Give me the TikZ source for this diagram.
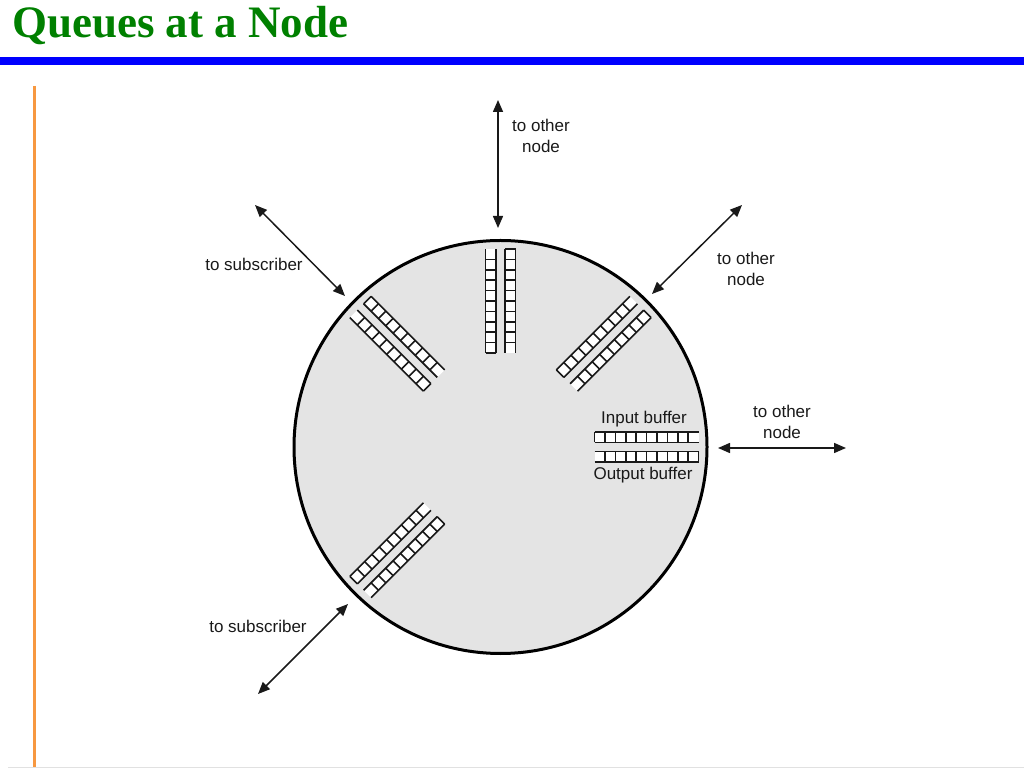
\documentclass[tikz,border=0pt]{standalone}
\usepackage{fontspec}
\setmainfont{Liberation Sans}
\newfontfamily\titlefont{Liberation Serif}
\usetikzlibrary{arrows.meta}
\definecolor{titlegreen}{RGB}{0,128,0}
\definecolor{barblue}{RGB}{0,0,255}
\definecolor{barorange}{RGB}{247,152,64}
\definecolor{hubfill}{RGB}{228,228,228}
\definecolor{inkgray}{RGB}{25,25,25}
\definecolor{edgegray}{RGB}{225,225,225}
\begin{document}
\begin{tikzpicture}[x=1pt,y=1pt,
  lbl/.style={font=\fontsize{17}{21}\selectfont, align=center, text=inkgray, inner sep=0pt},
  biarrow/.style={line width=1.5pt, draw=inkgray,
    {Triangle[length=12pt,width=10pt]}-{Triangle[length=12pt,width=10pt]}},
  qline/.style={line width=1.6pt, draw=inkgray},
  hubstyle/.style={circle, draw=black, line width=3pt, fill=hubfill,
    minimum size=413pt, inner sep=0pt},
]
\useasboundingbox (0,0) rectangle (1024,768);

% title and frame bars
\node[anchor=base west, inner sep=0pt, text=titlegreen,
  font=\titlefont\bfseries\fontsize{45}{50}\selectfont] (title) at (12,730) {Queues at a Node};
\fill[barblue] (0,703) rectangle (1024,711);
\draw[barorange, line width=3pt] (34,682) -- (34,0);
\draw[edgegray, line width=1pt] (8,1) -- (1024,1);

% the node
\node[hubstyle] (hub) at (500.5,321) {};

% queues
\foreach \a in {0,45,90,135,225}{
  \begin{scope}[shift={(500.5,321)}, rotate=\a]
    \fill[white] (94,4.5) rectangle (198,15);
    \fill[white] (94,-4.5) rectangle (198,-15);
    \draw[qline] (94,4.5) -- (198,4.5) (94,15) -- (198,15);
    \draw[qline] (94,-4.5) -- (198,-4.5) (94,-15) -- (198,-15);
    \foreach \k in {0,...,9} \draw[qline] ({94+10.4*\k},4.5) -- ++(0,10.5);
    \foreach \k in {1,...,10} \draw[qline] ({94+10.4*\k},-4.5) -- ++(0,-10.5);
  \end{scope}
}

% arrow end points
\coordinate (tO) at (498,668);   \coordinate (tI) at (498,540);
\coordinate (tlO) at (255,563);  \coordinate (tlI) at (345,472);
\coordinate (trO) at (742,563);  \coordinate (trI) at (652,474);
\coordinate (rI) at (718,320);   \coordinate (rO) at (846,320);
\coordinate (blI) at (348,164);  \coordinate (blO) at (258,74);

\draw[biarrow] (tO) -- (tI);
\draw[biarrow] (tlO) -- (tlI);
\draw[biarrow] (trO) -- (trI);
\draw[biarrow] (rI) -- (rO);
\draw[biarrow] (blI) -- (blO);

% labels
\node[lbl] (ltop) at (541,632) {to other\\node};
\node[lbl] (ltr) at (746,499.5) {to other\\node};
\node[lbl] (lr) at (782,346.5) {to other\\node};
\node[lbl] (ltl) at (254,504) {to subscriber};
\node[lbl] (lbl) at (258,142) {to subscriber};
\node[lbl] (lin) at (644,349) {Input buffer};
\node[lbl] (lout) at (643,293) {Output buffer};
\end{tikzpicture}
\end{document}
